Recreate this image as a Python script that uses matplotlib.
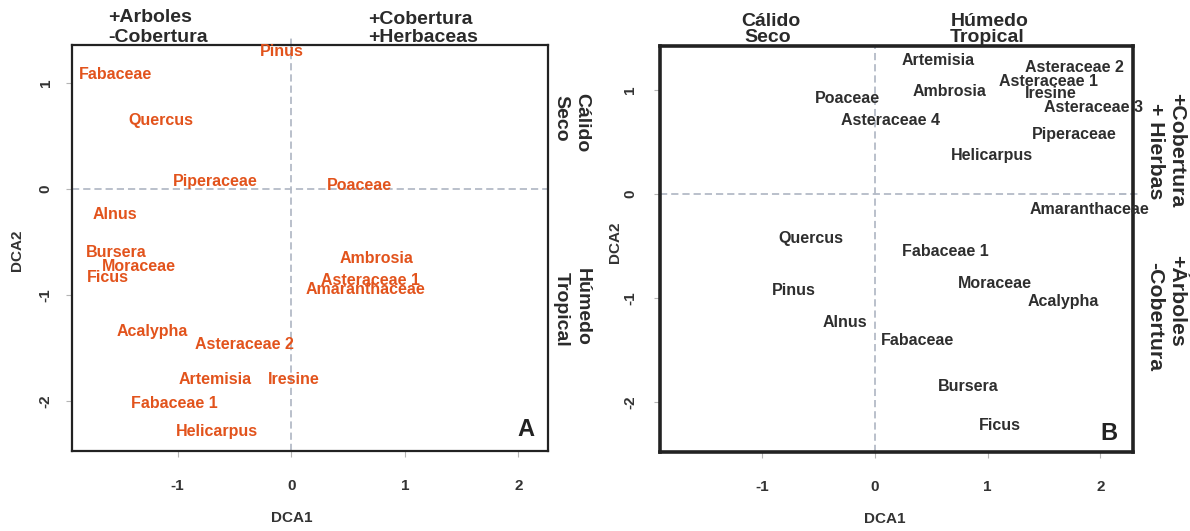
import matplotlib
matplotlib.use("Agg")
import matplotlib.pyplot as plt

plt.rcParams['font.family'] = ['Liberation Sans', 'DejaVu Sans']
plt.rcParams['font.weight'] = 'bold'

# Panel A data (DCA scores)
taxa_a = ["Pinus", "Fabaceae", "Quercus", "Piperaceae", "Poaceae", "Alnus", "Bursera",
          "Ambrosia", "Moraceae", "Ficus", "Asteraceae 1", "Amaranthaceae", "Acalypha",
          "Asteraceae 2", "Artemisia", "Iresine", "Fabaceae 1", "Helicarpus"]
dca1_a = [-0.08, -1.55, -1.15, -0.67, 0.60, -1.55, -1.54, 0.75, -1.34, -1.61, 0.70, 0.65,
          -1.22, -0.41, -0.67, 0.02, -1.03, -0.65]
dca2_a = [1.30, 1.08, 0.65, 0.07, 0.03, -0.24, -0.60, -0.65, -0.73, -0.83, -0.86, -0.95,
          -1.34, -1.47, -1.80, -1.80, -2.02, -2.29]

# Panel B data
taxa_b = ["Artemisia", "Asteraceae 2", "Asteraceae 1", "Ambrosia", "Iresine", "Poaceae",
          "Asteraceae 3", "Asteraceae 4", "Piperaceae", "Helicarpus", "Amaranthaceae",
          "Quercus", "Fabaceae 1", "Moraceae", "Pinus", "Acalypha", "Alnus", "Fabaceae",
          "Bursera", "Ficus"]
dca1_b = [0.56, 1.77, 1.54, 0.66, 1.56, -0.25, 1.94, 0.14, 1.77, 1.04, 1.90, -0.57, 0.62,
          1.06, -0.72, 1.67, -0.27, 0.38, 0.83, 1.11]
dca2_b = [1.28, 1.21, 1.08, 0.98, 0.96, 0.92, 0.83, 0.70, 0.57, 0.37, -0.15, -0.43, -0.55,
          -0.86, -0.93, -1.03, -1.24, -1.41, -1.85, -2.23]

xticks = [-1, 0, 1, 2]
yticks = [-2, -1, 0, 1]

W, H = 1190, 531
fig = plt.figure(figsize=(W / 100, H / 100), dpi=100)


def px(x, y):
    return x / W, 1 - y / H


ORANGE = "#E2531C"
DARK = "#2E2E2E"
DASH = "#B4BBC7"
TXT = "#333333"


def setup(ax, xlim, ylim, lw, ypad):
    ax.set_xlim(*xlim)
    ax.set_ylim(*ylim)
    ax.set_xticks(xticks)
    ax.set_yticks(yticks)
    ax.set_xticklabels([str(t) for t in xticks], fontsize=11, fontweight='bold', color=TXT)
    ax.set_yticklabels([str(t) for t in yticks], fontsize=11, fontweight='bold', color=TXT,
                       rotation=90, va='center')
    ax.tick_params(axis='both', length=4.5, width=0.8, color="#B5B5B5")
    ax.tick_params(axis='x', pad=16)
    ax.tick_params(axis='y', pad=ypad)
    for s in ax.spines.values():
        s.set_linewidth(lw)
        s.set_color("#222222")
    ax.axhline(0, color=DASH, lw=1.3, ls=(0, (4, 2.2)), zorder=0)
    ax.axvline(0, color=DASH, lw=1.3, ls=(0, (4, 2.2)), zorder=0)


# Panel A
axA = fig.add_axes([72 / W, 1 - 451 / H, (548 - 72) / W, (451 - 45) / H])
setup(axA, (-1.93, 2.26), (-2.47, 1.36), 1.6, 9.5)
axA.axvline(0, ymin=0.97, ymax=1.02, color=DASH, lw=1.3, ls=(0, (4, 2.2)), clip_on=False, zorder=0)
for t, x, y in zip(taxa_a, dca1_a, dca2_a):
    axA.text(x, y, t, color=ORANGE, fontsize=11.5, fontweight='bold', ha='center', va='center')

# Panel B
axB = fig.add_axes([660 / W, 1 - 452 / H, (1133 - 660) / W, (452 - 46) / H])
setup(axB, (-1.91, 2.29), (-2.48, 1.42), 2.6, 12)
axB.axhline(0, xmin=0.97, xmax=1.015, color=DASH, lw=1.3, ls=(0, (4, 2.2)), clip_on=False, zorder=0)
for t, x, y in zip(taxa_b, dca1_b, dca2_b):
    axB.text(x, y, t, color=DARK, fontsize=11.5, fontweight='bold', ha='center', va='center')

# Axis titles and panel letters
fig.text(*px(292, 518), "DCA1", fontsize=11, fontweight='bold', color=TXT, ha='center', va='center')
fig.text(*px(17, 250), "DCA2", fontsize=11, fontweight='bold', color=TXT, ha='center', va='center',
         rotation=90)
fig.text(*px(885, 519), "DCA1", fontsize=11, fontweight='bold', color=TXT, ha='center', va='center')
fig.text(*px(615, 242), "DCA2", fontsize=11, fontweight='bold', color=TXT, ha='center', va='center',
         rotation=90)
fig.text(*px(526, 430), "A", fontsize=17, fontweight='bold', color="#222222", ha='center', va='center')
fig.text(*px(1109, 433), "B", fontsize=17, fontweight='bold', color="#222222", ha='center', va='center')

# Margin annotations
MC = "#2A2A2A"


def mtext(x, y, s, fs=14, **kw):
    fig.text(*px(x, y), s, fontsize=fs, fontweight='bold', color=MC, **kw)


# Panel A top
mtext(108, 18, "+Arboles", ha='left', va='center')
mtext(108, 37, "-Cobertura", ha='left', va='center')
mtext(368, 19, "+Cobertura", ha='left', va='center')
mtext(368, 38, "+Herbaceas", ha='left', va='center')
# Panel A right
mtext(582, 93, "Cálido", ha='center', va='top', rotation=270)
mtext(561, 95, "Seco", ha='center', va='top', rotation=270)
mtext(582, 268, "Húmedo", ha='center', va='top', rotation=270)
mtext(561, 272, "Tropical", ha='center', va='top', rotation=270)
# Panel B top
mtext(741, 21, "Cálido", ha='left', va='center')
mtext(744, 38, "Seco", ha='left', va='center')
mtext(951, 21, "Húmedo", ha='left', va='center')
mtext(950, 38, "Tropical", ha='left', va='center')
# Panel B right
mtext(1177, 93, "+Cobertura", fs=15.3, ha='center', va='top', rotation=270)
mtext(1155, 103, "+ Hierbas", fs=15.3, ha='center', va='top', rotation=270)
mtext(1177, 255, "+Árboles", fs=15.3, ha='center', va='top', rotation=270)
mtext(1155, 262, "-Cobertura", fs=15.3, ha='center', va='top', rotation=270)

fig.savefig("out.png", dpi=100)
